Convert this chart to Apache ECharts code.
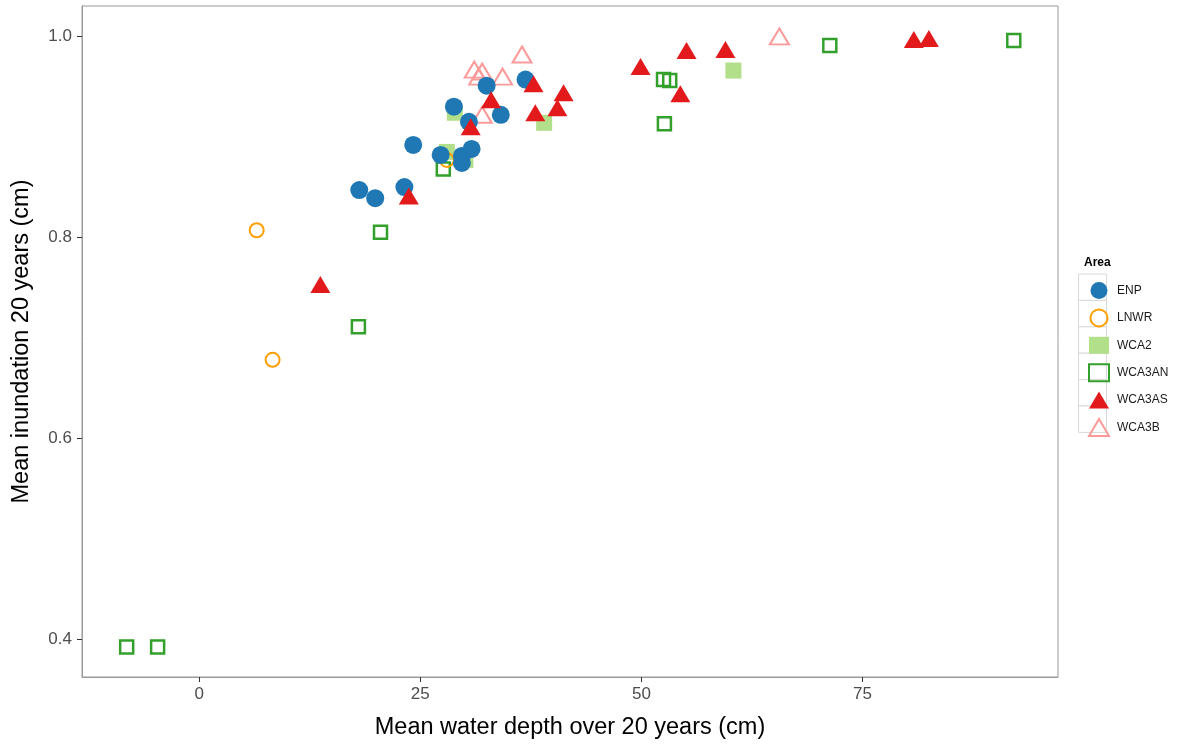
<!DOCTYPE html>
<html>
<head>
<meta charset="utf-8">
<script src="https://cdn.jsdelivr.net/npm/echarts@6/dist/echarts.min.js"></script>
<style>
  html, body { margin: 0; padding: 0; background: #fff; }
  #chart { width: 1182px; height: 745px; }
</style>
</head>
<body>
<div id="chart"></div>
<script>
// Mean water depth (cm) vs. mean inundation, per sampling area
const areaNames = ['ENP', 'LNWR', 'WCA2', 'WCA3AN', 'WCA3AS', 'WCA3B'];

const enp = [
  [18.1, 0.847], [19.9, 0.839], [23.2, 0.850], [24.2, 0.892], [27.3, 0.882],
  [28.8, 0.930], [29.7, 0.881], [29.7, 0.874], [30.8, 0.888], [30.5, 0.915],
  [32.5, 0.951], [34.1, 0.922], [36.9, 0.957]
];
const lnwr = [[6.5, 0.807], [8.3, 0.678], [28.0, 0.877]];
const wca2 = [[28.0, 0.885], [28.9, 0.924], [30.1, 0.877], [39.0, 0.914], [60.4, 0.966]];
const wca3an = [
  [-8.2, 0.392], [-4.7, 0.392], [18.0, 0.711], [20.5, 0.805], [27.6, 0.868],
  [52.5, 0.957], [53.2, 0.956], [52.6, 0.913], [71.3, 0.991], [92.1, 0.996]
];
const wca3as = [
  [13.7, 0.753], [23.7, 0.841], [30.7, 0.910], [33.0, 0.937], [37.8, 0.953],
  [38.0, 0.924], [40.5, 0.929], [41.2, 0.944], [49.9, 0.970], [54.4, 0.943],
  [55.1, 0.986], [59.5, 0.987], [80.8, 0.997], [82.5, 0.998]
];
const wca3b = [
  [31.1, 0.967], [32.0, 0.965], [31.6, 0.960], [34.3, 0.960], [36.5, 0.982],
  [32.0, 0.922], [65.6, 1.000]
];

const xTicks = [0, 25, 50, 75];
const yTicks = [0.4, 0.6, 0.8, 1.0];

const chart = echarts.init(document.getElementById('chart'), null, { renderer: 'canvas' });

const FONT = '"Liberation Sans", Arial, sans-serif';
const tickColor = '#333333';
const labelColor = '#4d4d4d';

function scatter(name, data, symbol, size, style, z) {
  return {
    name: name,
    type: 'scatter',
    data: data,
    symbol: symbol,
    symbolSize: size,
    itemStyle: Object.assign({ opacity: 1 }, style),
    z: z,
    emphasis: { disabled: true },
    silent: true
  };
}

// legend key frames (one per area)
const keyFrames = areaNames.map((n, i) => ({
  type: 'rect',
  left: 1078,
  top: 273.5 + i * 26.4,
  shape: { width: 28, height: 26.4 },
  style: { fill: '#ffffff', stroke: '#d9d9d9', lineWidth: 1 },
  z: 0
}));

chart.setOption({
  animation: false,
  backgroundColor: '#ffffff',
  textStyle: { fontFamily: FONT },
  grid: {
    left: 82, right: 124, top: 6, bottom: 67,
    show: true, borderColor: '#9a9a9a', borderWidth: 1, backgroundColor: 'transparent'
  },
  xAxis: {
    type: 'value',
    min: -13.25, max: 97.1,
    name: 'Mean water depth over 20 years (cm)',
    nameLocation: 'middle',
    nameGap: 39,
    nameTextStyle: { fontSize: 23.5, color: '#000', fontFamily: FONT },
    axisLine: { show: true, onZero: false, lineStyle: { color: '#9a9a9a', width: 1 } },
    axisTick: { show: true, length: 5, lineStyle: { color: tickColor }, customValues: xTicks },
    axisLabel: { color: labelColor, fontSize: 17, margin: 9, fontFamily: FONT, customValues: xTicks },
    splitLine: { show: false }
  },
  yAxis: {
    type: 'value',
    min: 0.3622, max: 1.0303,
    name: 'Mean inundation 20 years (cm)',
    nameLocation: 'middle',
    nameGap: 48,
    nameTextStyle: { fontSize: 23.5, color: '#000', fontFamily: FONT },
    axisLine: { show: true, onZero: false, lineStyle: { color: '#9a9a9a', width: 1 } },
    axisTick: { show: true, length: 5, lineStyle: { color: tickColor }, customValues: yTicks },
    axisLabel: {
      color: labelColor, fontSize: 17, margin: 10, fontFamily: FONT, customValues: yTicks,
      formatter: v => Number(v).toFixed(1)
    },
    splitLine: { show: false }
  },
  title: {
    text: 'Area',
    left: 1079, top: 252,
    textStyle: { fontSize: 12, fontWeight: 'bold', color: '#000', fontFamily: FONT }
  },
  legend: {
    orient: 'vertical',
    left: 1083, top: 277,
    itemWidth: 20, itemHeight: 17,
    itemGap: 9.4,
    data: areaNames,
    selectedMode: false,
    textStyle: { fontSize: 12, color: '#1a1a1a', fontFamily: FONT, padding: [0, 0, 0, 3] }
  },
  graphic: keyFrames,
  series: [
    scatter('WCA2', wca2, 'rect', 16, { color: '#B2DF8A' }, 2),
    scatter('WCA3AN', wca3an, 'rect', 13, { color: 'rgba(0,0,0,0)', borderColor: '#33A02C', borderWidth: 2.5 }, 3),
    scatter('LNWR', lnwr, 'circle', 14, { color: 'rgba(0,0,0,0)', borderColor: '#FF9F00', borderWidth: 2 }, 4),
    scatter('WCA3B', wca3b, 'triangle', [19, 16], { color: 'rgba(0,0,0,0)', borderColor: '#FB9A99', borderWidth: 2 }, 5),
    scatter('ENP', enp, 'circle', 18, { color: '#1F78B4' }, 6),
    scatter('WCA3AS', wca3as, 'triangle', [20, 17], { color: '#E31A1C' }, 7)
  ]
});
</script>
</body>
</html>
